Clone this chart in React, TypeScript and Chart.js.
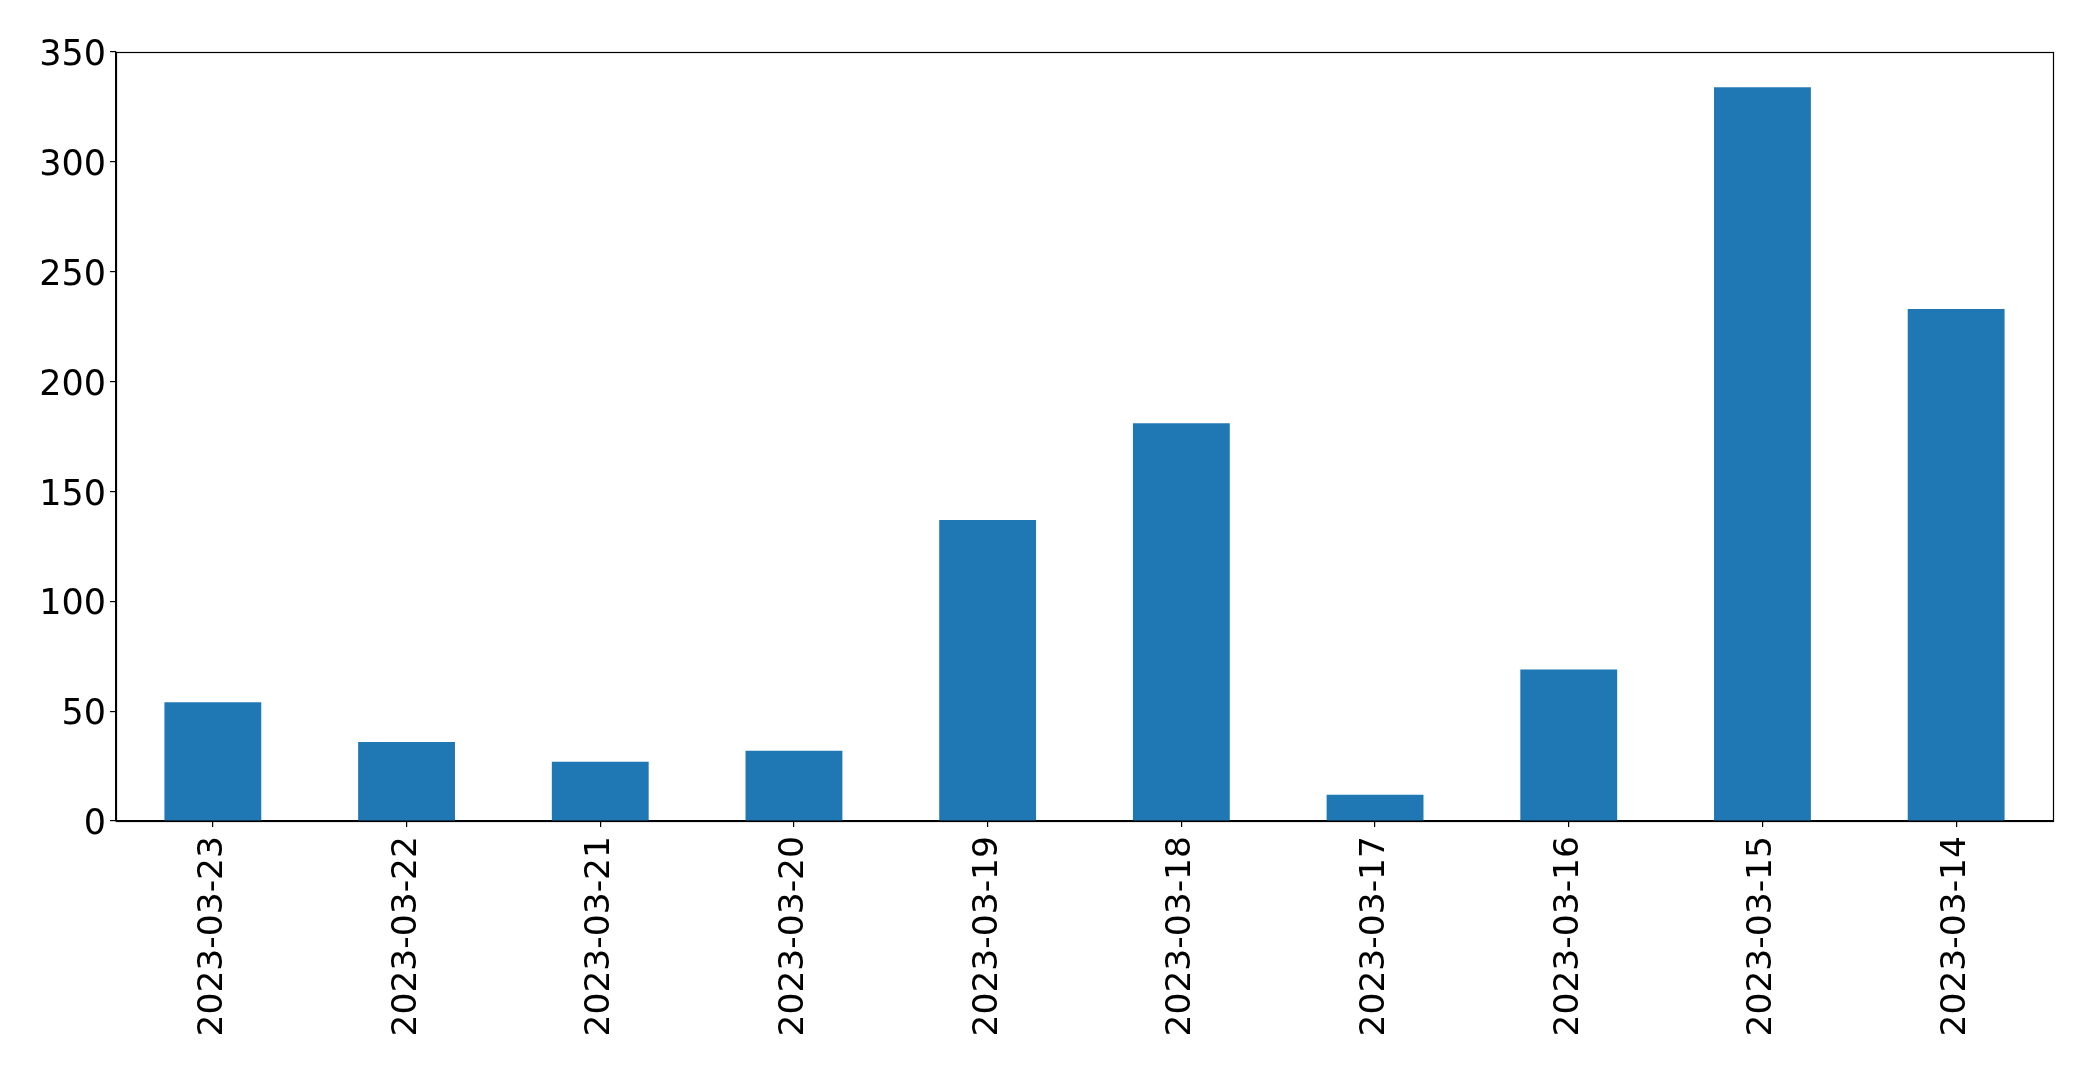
import React, { useEffect, useRef } from "react";
import { Chart, registerables } from "chart.js";

Chart.register(...registerables);

const categories = [
  "2023-03-23",
  "2023-03-22",
  "2023-03-21",
  "2023-03-20",
  "2023-03-19",
  "2023-03-18",
  "2023-03-17",
  "2023-03-16",
  "2023-03-15",
  "2023-03-14",
];
const values = [54, 36, 27, 32, 137, 181, 12, 69, 334, 233];
const yTicks = [0, 50, 100, 150, 200, 250, 300, 350];

const FONT = "'DejaVu Sans', sans-serif";

const frame = {
  id: "frame",
  afterDraw(chart: any) {
    const { ctx, chartArea } = chart;
    ctx.save();
    ctx.strokeStyle = "#000";
    ctx.lineWidth = 1.2;
    ctx.strokeRect(
      Math.round(chartArea.left) + 0.5,
      Math.round(chartArea.top) + 0.5,
      Math.round(chartArea.right - chartArea.left),
      Math.round(chartArea.bottom - chartArea.top)
    );
    ctx.restore();
  },
};

export default function App() {
  const ref = useRef<HTMLCanvasElement>(null);
  useEffect(() => {
    document.body.style.margin = "0";
    const chart = new Chart(ref.current!, {
      type: "bar",
      data: {
        labels: categories,
        datasets: [
          {
            data: values,
            backgroundColor: "#1f77b4",
            borderWidth: 0,
            barPercentage: 0.5,
            categoryPercentage: 1,
          },
        ],
      },
      options: {
        animation: false,
        responsive: false,
        maintainAspectRatio: false,
        layout: { padding: { top: 52, right: 40, left: 0, bottom: 0 } },
        plugins: { legend: { display: false }, tooltip: { enabled: false } },
        scales: {
          x: {
            grid: {
              display: true,
              offset: false,
              drawOnChartArea: false,
              drawTicks: true,
              tickLength: 6,
              color: "#000",
              lineWidth: 1.2,
            },
            border: { display: true, color: "#000", width: 1.2 },
            ticks: {
              color: "#000",
              font: { family: FONT, size: 34.5 },
              minRotation: 90,
              maxRotation: 90,
              padding: 9,
              autoSkip: false,
            },
            afterFit(scale: any) {
              scale.height = 1073 - 821;
            },
          },
          y: {
            min: 0,
            max: 350,
            afterBuildTicks(scale: any) {
              scale.ticks = yTicks.map((v) => ({ value: v }));
            },
            grid: {
              display: true,
              drawOnChartArea: false,
              drawTicks: true,
              tickLength: 6,
              color: "#000",
              lineWidth: 1.2,
            },
            border: { display: true, color: "#000", width: 1.2 },
            ticks: {
              color: "#000",
              font: { family: FONT, size: 35 },
              padding: 4,
              labelOffset: 4,
            },
            afterFit(scale: any) {
              scale.width = 116;
            },
          },
        },
      },
      plugins: [frame],
    });
    return () => chart.destroy();
  }, []);
  return (
    <div style={{ position: "absolute", left: 0, top: 0, width: 2093, height: 1073, background: "#fff" }}>
      <canvas ref={ref} width={2093} height={1073} style={{ width: 2093, height: 1073, display: "block" }} />
    </div>
  );
}
